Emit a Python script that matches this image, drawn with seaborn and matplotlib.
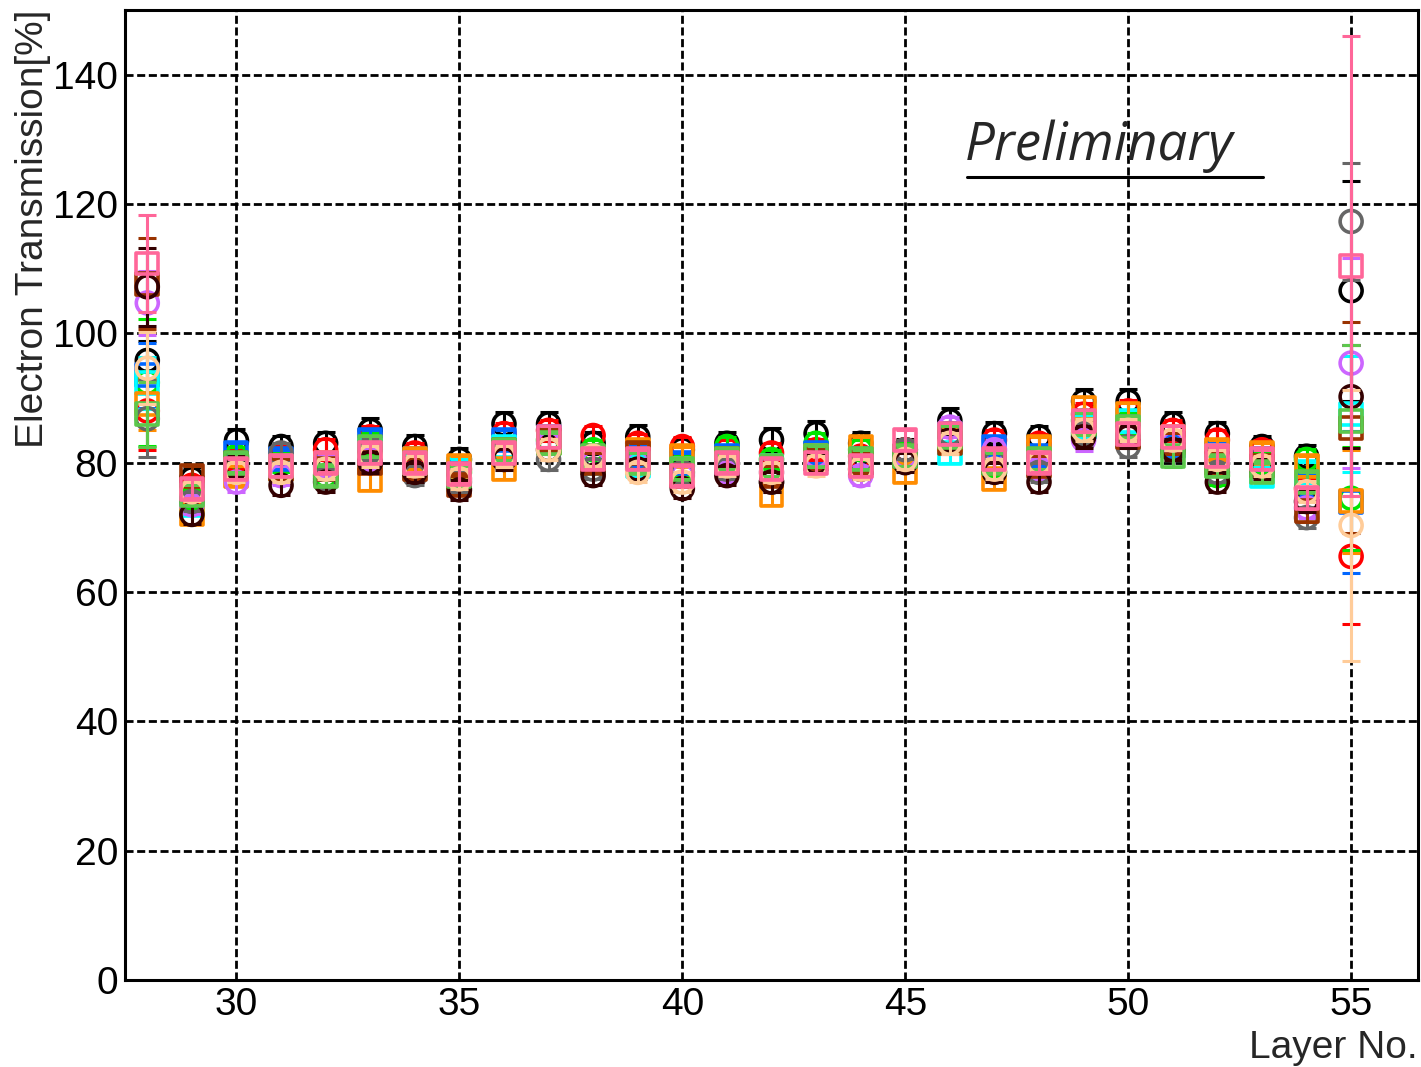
import matplotlib
matplotlib.use("Agg")
import matplotlib.pyplot as plt
import seaborn as sns
import pandas as pd
from matplotlib.ticker import MultipleLocator
from matplotlib.lines import Line2D

# ---------------- data ----------------
layers = list(range(28, 56))

black      = [95.8, 77.5, 83.4, 82.5, 83.0, 85.0, 82.5, 80.5, 86.0, 86.0, 83.0, 84.0, 82.0, 83.0, 83.5, 84.5, 83.0, 82.0, 86.5, 84.5, 84.0, 89.5, 89.5, 86.0, 84.5, 82.5, 81.0, 106.6]
red        = [88.0, 76.5, 80.5, 81.0, 82.0, 84.0, 81.5, 79.0, 84.5, 85.0, 84.2, 83.0, 82.5, 82.0, 81.5, 82.0, 81.0, 82.0, 84.0, 83.5, 83.0, 87.5, 88.0, 85.0, 83.5, 82.0, 76.0, 65.5]
green      = [92.4, 74.5, 81.0, 80.0, 78.0, 83.0, 80.0, 78.5, 82.0, 83.5, 82.0, 79.5, 79.5, 82.5, 80.5, 83.0, 82.0, 81.5, 84.0, 79.5, 80.5, 86.5, 86.0, 82.5, 78.0, 80.0, 80.5, 74.5]
blue       = [93.5, 75.0, 81.5, 80.5, 79.5, 83.5, 80.5, 78.5, 83.5, 84.0, 80.5, 81.0, 80.0, 81.0, 79.0, 81.5, 80.5, 81.0, 84.5, 82.5, 81.0, 86.0, 85.5, 82.5, 81.5, 80.5, 76.5, 73.9]
cyan       = [92.3, 73.5, 79.5, 79.0, 79.0, 82.0, 79.5, 79.0, 82.5, 83.0, 80.0, 79.5, 79.0, 80.0, 79.5, 80.5, 80.0, 81.0, 81.5, 80.0, 80.0, 85.5, 86.5, 83.0, 81.0, 78.0, 78.5, 87.5]
orange     = [89.0, 72.0, 78.0, 79.0, 80.0, 77.3, 80.5, 79.5, 79.0, 83.0, 80.5, 82.0, 81.0, 80.5, 75.0, 81.0, 82.5, 78.5, 83.5, 77.5, 82.5, 88.5, 87.5, 84.0, 82.0, 81.5, 79.5, 74.0]
violet     = [104.7, 73.5, 77.0, 78.0, 79.5, 80.5, 78.5, 77.5, 81.0, 83.0, 80.0, 80.0, 78.0, 78.5, 78.5, 81.0, 78.0, 81.0, 85.5, 82.0, 79.0, 83.5, 84.5, 83.0, 80.5, 79.5, 73.0, 95.4]
gray       = [86.8, 74.0, 79.0, 81.5, 77.5, 82.0, 78.0, 77.0, 81.5, 80.5, 79.0, 80.5, 78.5, 79.0, 77.0, 80.0, 80.0, 82.0, 84.5, 80.0, 78.5, 84.5, 82.5, 82.0, 78.5, 79.0, 71.5, 117.3]
brown      = [107.7, 78.0, 80.0, 79.0, 79.0, 80.0, 79.0, 76.5, 82.0, 83.5, 80.0, 81.5, 78.0, 80.5, 78.0, 80.5, 80.0, 81.0, 83.0, 80.0, 79.5, 86.0, 84.0, 83.0, 80.0, 79.5, 72.5, 85.4]
darkbrown  = [107.2, 72.0, 79.5, 76.5, 77.0, 80.0, 78.5, 75.8, 80.5, 82.0, 78.0, 79.0, 76.0, 78.0, 77.0, 80.0, 79.0, 80.0, 83.5, 78.5, 77.0, 84.0, 84.0, 82.0, 77.0, 79.0, 74.0, 90.2]
lightgreen = [87.5, 75.0, 80.0, 79.5, 78.0, 82.5, 80.0, 78.0, 82.0, 83.0, 81.0, 80.0, 79.0, 80.5, 79.5, 81.0, 80.5, 81.0, 84.0, 80.0, 80.5, 86.0, 85.5, 81.0, 79.5, 78.5, 77.0, 86.5]
peach      = [94.6, 75.5, 78.5, 78.5, 79.0, 81.0, 79.5, 77.5, 81.0, 82.0, 81.0, 78.5, 77.0, 79.5, 78.5, 79.5, 79.0, 80.5, 83.0, 79.0, 80.0, 85.0, 85.0, 83.5, 80.5, 79.5, 75.5, 70.3]
pink       = [110.8, 76.0, 79.0, 79.5, 80.0, 81.5, 80.0, 78.3, 81.5, 84.0, 80.5, 80.5, 78.0, 80.0, 79.0, 80.0, 79.5, 83.5, 84.5, 80.5, 80.0, 86.5, 84.5, 84.0, 81.0, 80.5, 74.5, 110.4]

err_black      = [3.0, 1.8, 1.8, 1.7, 1.8, 1.9, 1.8, 1.7, 1.9, 1.8, 1.7, 1.8, 1.8, 1.7, 1.8, 1.9, 1.8, 1.7, 2.0, 1.8, 1.7, 1.9, 1.9, 1.8, 1.8, 1.7, 1.8, 17.0]
err_red        = [6.0, 1.5, 1.5, 1.5, 1.6, 1.6, 1.5, 1.5, 1.6, 1.6, 1.5, 1.5, 1.5, 1.5, 1.5, 1.6, 1.5, 1.5, 1.6, 1.6, 1.5, 1.7, 1.7, 1.6, 1.6, 1.5, 1.6, 10.5]
err_green      = [9.8, 1.5, 1.5, 1.5, 1.5, 1.6, 1.5, 1.5, 1.6, 1.6, 1.5, 1.5, 1.5, 1.5, 1.5, 1.6, 1.5, 1.5, 1.6, 1.5, 1.5, 1.7, 1.7, 1.6, 1.5, 1.5, 1.6, 8.0]
err_blue       = [5.0, 1.5, 1.5, 1.5, 1.5, 1.6, 1.5, 1.5, 1.6, 1.6, 1.5, 1.5, 1.5, 1.5, 1.5, 1.6, 1.5, 1.5, 1.6, 1.5, 1.5, 1.7, 1.7, 1.6, 1.5, 1.5, 1.6, 11.0]
err_cyan       = [4.0, 1.5, 1.5, 1.5, 1.5, 1.6, 1.5, 1.5, 1.6, 1.6, 1.5, 1.5, 1.5, 1.5, 1.5, 1.6, 1.5, 1.5, 1.6, 1.5, 1.5, 1.7, 1.7, 1.6, 1.5, 1.5, 1.6, 9.0]
err_orange     = [4.0, 1.5, 1.5, 1.5, 1.5, 1.6, 1.5, 1.5, 1.6, 1.6, 1.5, 1.5, 1.5, 1.5, 1.5, 1.6, 1.5, 1.5, 1.6, 1.5, 1.5, 1.7, 1.7, 1.6, 1.5, 1.5, 1.6, 8.0]
err_violet     = [5.0, 1.5, 1.5, 1.5, 1.5, 1.6, 1.5, 1.5, 1.6, 1.6, 1.5, 1.5, 1.5, 1.5, 1.5, 1.6, 1.5, 1.5, 1.6, 1.5, 1.5, 1.7, 1.7, 1.6, 1.5, 1.5, 1.6, 16.3]
err_gray       = [6.0, 1.5, 1.5, 1.5, 1.5, 1.6, 1.5, 1.5, 1.6, 1.6, 1.5, 1.5, 1.5, 1.5, 1.5, 1.6, 1.5, 1.5, 1.6, 1.5, 1.5, 1.7, 1.7, 1.6, 1.5, 1.5, 1.6, 9.0]
err_brown      = [7.0, 1.5, 1.5, 1.5, 1.5, 1.6, 1.5, 1.5, 1.6, 1.6, 1.5, 1.5, 1.5, 1.5, 1.5, 1.6, 1.5, 1.5, 1.6, 1.5, 1.5, 1.7, 1.7, 1.6, 1.5, 1.5, 1.6, 16.3]
err_darkbrown  = [6.0, 1.5, 1.5, 1.5, 1.5, 1.6, 1.5, 1.5, 1.6, 1.6, 1.5, 1.5, 1.5, 1.5, 1.5, 1.6, 1.5, 1.5, 1.6, 1.5, 1.5, 1.7, 1.7, 1.6, 1.5, 1.5, 1.6, 8.0]
err_lightgreen = [5.0, 1.5, 1.5, 1.5, 1.5, 1.6, 1.5, 1.5, 1.6, 1.6, 1.5, 1.5, 1.5, 1.5, 1.5, 1.6, 1.5, 1.5, 1.6, 1.5, 1.5, 1.7, 1.7, 1.6, 1.5, 1.5, 1.6, 11.7]
err_peach      = [5.6, 1.5, 1.5, 1.5, 1.5, 1.6, 1.5, 1.5, 1.6, 1.6, 1.5, 1.5, 1.5, 1.5, 1.5, 1.6, 1.5, 1.5, 1.6, 1.5, 1.5, 1.7, 1.7, 1.6, 1.5, 1.5, 1.6, 21.0]
err_pink       = [7.5, 1.5, 1.5, 1.5, 1.5, 1.6, 1.5, 1.5, 1.6, 1.6, 1.5, 1.5, 1.5, 1.5, 1.5, 1.6, 1.5, 1.5, 1.6, 1.5, 1.5, 1.7, 1.7, 1.6, 1.5, 1.5, 1.6, 35.6]

x_ticks = [30, 35, 40, 45, 50, 55]
y_ticks = [0, 20, 40, 60, 80, 100, 120, 140]
x_label = "Layer No."
y_label = "Electron Transmission[%]"
stamp = "Preliminary"

# ---------------- styles ----------------
series = [
    ("black", black, err_black, "#000000", "o"),
    ("red", red, err_red, "#ff0000", "o"),
    ("green", green, err_green, "#00e600", "o"),
    ("blue", blue, err_blue, "#0066ff", "s"),
    ("cyan", cyan, err_cyan, "#00ffff", "s"),
    ("orange", orange, err_orange, "#ff8c00", "s"),
    ("violet", violet, err_violet, "#cc66ff", "o"),
    ("gray", gray, err_gray, "#666666", "o"),
    ("brown", brown, err_brown, "#993300", "s"),
    ("darkbrown", darkbrown, err_darkbrown, "#330000", "o"),
    ("lightgreen", lightgreen, err_lightgreen, "#5cc84c", "s"),
    ("peach", peach, err_peach, "#ffcc99", "o"),
    ("pink", pink, err_pink, "#ff6699", "s"),
]

frames = []
for name, vals, errs, color, marker in series:
    frames.append(pd.DataFrame({"layer": layers, "value": vals, "err": errs, "series": name}))
df = pd.concat(frames, ignore_index=True)

sns.set_theme(style="white")
plt.rcParams["font.family"] = ["Liberation Sans", "DejaVu Sans"]

W, H = 1421, 1067
fig = plt.figure(figsize=(W / 100, H / 100), dpi=100)
ax = fig.add_axes([125 / W, (H - 980) / H, (1418 - 125) / W, (980 - 10) / H])

for i, (name, vals, errs, color, marker) in enumerate(series):
    sub = df[df["series"] == name]
    ax.errorbar(sub["layer"], sub["value"], yerr=sub["err"], fmt="none",
                ecolor=color, elinewidth=2.2, capsize=6.5, capthick=2.2,
                zorder=10 + 2 * i)
    sns.scatterplot(data=sub, x="layer", y="value", marker=marker, s=250,
                    color=color, ax=ax, legend=False, zorder=11 + 2 * i)
    coll = ax.collections[-1]
    coll.set_facecolor("none")
    coll.set_edgecolor(color)
    coll.set_linewidth(2.6)

ax.set_xlim(27.5, 56.5)
ax.set_ylim(0, 150)
ax.set_xticks(x_ticks)
ax.set_yticks(y_ticks)
ax.xaxis.set_minor_locator(MultipleLocator(1))
ax.yaxis.set_minor_locator(MultipleLocator(5))
ax.set_xlabel("")
ax.set_ylabel("")

ax.grid(True, which="major", color="black", linestyle=(0, (2.9, 1.3)), linewidth=2.0, zorder=0.5)
ax.set_axisbelow(True)

ax.tick_params(axis="both", which="both", direction="in", top=False, right=False,
               colors="black", width=1.8)
ax.tick_params(axis="x", which="major", length=23, pad=5, labelsize=28)
ax.tick_params(axis="x", which="minor", length=11)
ax.tick_params(axis="y", which="major", length=33, pad=5, labelsize=28)
ax.tick_params(axis="y", which="minor", length=15)
for sp in ax.spines.values():
    sp.set_visible(True)
    sp.set_color("black")
    sp.set_linewidth(2.2)

fig.text(33 / W, 1 - 10 / H, y_label, rotation=90, ha="center", va="top", fontsize=28)
fig.text(1418 / W, 1 - 1058 / H, x_label, ha="right", va="baseline", fontsize=28)

fig.text(965 / W, 1 - 160 / H, stamp, ha="left", va="baseline", fontsize=38,
         family=["Open Sans", "DejaVu Sans"], style="italic")
fig.add_artist(Line2D([967 / W, 1263 / W], [1 - 177 / H, 1 - 177 / H],
                      transform=fig.transFigure, color="black", linewidth=2.2))

fig.savefig("out.png", dpi=100)
